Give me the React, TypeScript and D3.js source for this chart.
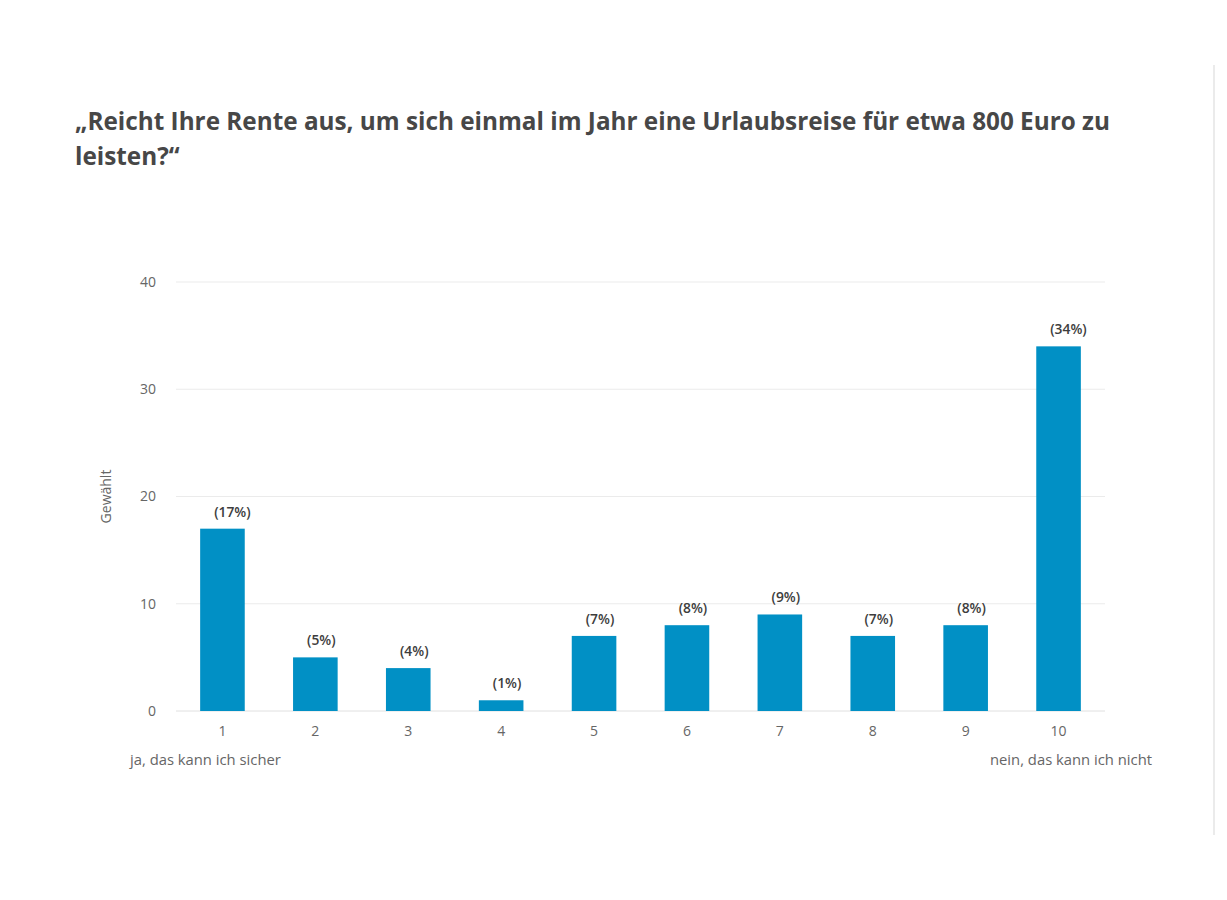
import React from "react";
import * as d3 from "d3";

const categories = ["1", "2", "3", "4", "5", "6", "7", "8", "9", "10"];
const values = [17, 5, 4, 1, 7, 8, 9, 7, 8, 34];
const percentLabels = ["(17%)", "(5%)", "(4%)", "(1%)", "(7%)", "(8%)", "(9%)", "(7%)", "(8%)", "(34%)"];
const yTicks = [0, 10, 20, 30, 40];
const titleLines = [
  "„Reicht Ihre Rente aus, um sich einmal im Jahr eine Urlaubsreise für etwa 800 Euro zu",
  "leisten?“",
];
const leftNote = "ja, das kann ich sicher";
const rightNote = "nein, das kann ich nicht";
const yTitle = "Gewählt";

export default function App() {
  const W = 1227, H = 900;
  const x = d3.scaleBand<string>().domain(categories).range([176, 1105]).paddingInner(0.52).paddingOuter(0.26);
  const y = d3.scaleLinear().domain([0, 40]).range([711, 282]);
  const font = "'Open Sans', sans-serif";
  return (
    <svg width={W} height={H} style={{ position: "absolute", left: 0, top: 0, background: "#fff" }} fontFamily={font}>
      <rect x={0} y={0} width={W} height={H} fill="#fff" />
      <line x1={1214} x2={1214} y1={65} y2={835} stroke="#e4e4e4" strokeWidth={1.5} />
      {titleLines.map((t, i) => (
        <text key={i} x={75} y={130 + i * 35} fontSize={24.3} fontWeight={700} fill="#474747">{t}</text>
      ))}
      {yTicks.map((t) => (
        <g key={t}>
          <line x1={176} x2={1105} y1={y(t)} y2={y(t)} stroke={t === 0 ? "#e0e0e0" : "#ebebeb"} strokeWidth={1} />
          <text x={156} y={y(t)} dy="0.35em" textAnchor="end" fontSize={14} fill="#666">{t}</text>
        </g>
      ))}
      <text transform={`translate(111,${y(20)}) rotate(-90)`} textAnchor="middle" fontSize={14} fill="#666">{yTitle}</text>
      {categories.map((c, i) => {
        const bx = x(c)!;
        const bw = x.bandwidth();
        return (
          <g key={c}>
            <rect x={bx} y={y(values[i])} width={bw} height={y(0) - y(values[i])} fill="#0190c5" />
            <text x={bx + 14} y={y(values[i]) - 12} textAnchor="start" fontSize={13.8} fontWeight={600} fill="#3d3d3d">{percentLabels[i]}</text>
            <text x={bx + bw / 2} y={736} textAnchor="middle" fontSize={14} fill="#666">{c}</text>
          </g>
        );
      })}
      <text x={130} y={765} fontSize={14.8} fill="#666">{leftNote}</text>
      <text x={1152} y={765} textAnchor="end" fontSize={14.8} fill="#666">{rightNote}</text>
    </svg>
  );
}
